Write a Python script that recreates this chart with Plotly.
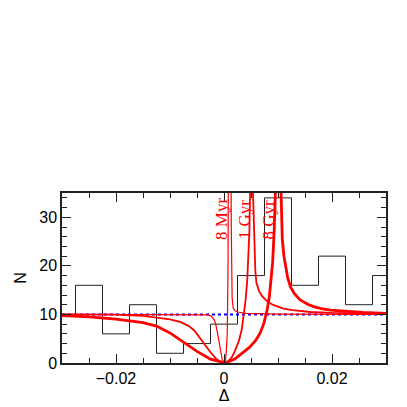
import plotly.graph_objects as go

# histogram of observed Delta values (bin centres, counts)
hist_x = [-0.03, -0.025, -0.02, -0.015, -0.01, -0.005, 0.0, 0.005, 0.01, 0.015, 0.02, 0.025, 0.03]
hist_n = [10, 16, 6, 12, 2, 4, 8, 18, 34, 16, 22, 12, 18]

# flat (uniform) expectation
flat_x = [-0.03, 0.03]
flat_n = [10, 10]

# model curves
myr8_x = [-0.03, -0.02, -0.01, -0.005, -0.003, -0.0024, -0.0018, -0.0015, -0.0012, -0.001,
          -0.0008, -0.0006, -0.0003, 0.0002, 0.0004, 0.0006, 0.0007, 0.00075, 0.0008,
          0.0013, 0.00135, 0.0014, 0.0015, 0.0017, 0.002, 0.0025, 0.004, 0.01, 0.03]
myr8_n = [10.0, 10.0, 10.0, 9.95, 9.9, 9.7, 8.9, 7.8, 6.4, 5.0,
          3.6, 2.3, 0.6, 0.0, 2.0, 6.0, 12.0, 20.0, 40.0,
          40.0, 28.0, 20.0, 13.5, 11.3, 10.8, 10.5, 10.2, 10.05, 10.0]

gyr1_x = [-0.03, -0.02, -0.015, -0.012, -0.01, -0.008, -0.0065, -0.0055, -0.0045, -0.0035,
          -0.0025, -0.0015, -0.0005, 0.0002, 0.001, 0.0015, 0.002, 0.0025, 0.0028, 0.0033,
          0.0037, 0.004, 0.0043, 0.0045, 0.0047, 0.0049,
          0.0052, 0.0054, 0.0056, 0.0058, 0.006, 0.0065, 0.0071, 0.008, 0.009, 0.011,
          0.0127, 0.016, 0.02, 0.025, 0.03]
gyr1_n = [10.0, 9.95, 9.7, 9.3, 9.0, 8.4, 7.6, 6.7, 5.3, 3.7,
          2.2, 0.9, 0.15, 0.0, 0.6, 1.3, 2.4, 3.7, 4.7, 7.0,
          10.2, 13.0, 17.0, 21.0, 27.0, 40.0,
          40.0, 34.0, 26.0, 19.0, 16.5, 14.8, 13.7, 12.7, 12.0, 11.2,
          10.9, 10.5, 10.3, 10.2, 10.1]

gyr8_x = [-0.03, -0.025, -0.02, -0.015, -0.0125, -0.01, -0.0075, -0.005, -0.0025, 0.0002,
          0.002, 0.0034, 0.0047, 0.0059, 0.0067, 0.0074, 0.008, 0.0084, 0.0088, 0.009,
          0.0093, 0.0096,
          0.0104, 0.0106, 0.0108, 0.0111, 0.0114, 0.0118, 0.0123, 0.013, 0.0141, 0.0155,
          0.0166, 0.018, 0.0197, 0.0225, 0.0258, 0.03]
gyr8_n = [9.75, 9.5, 9.05, 8.3, 7.6, 6.2, 4.3, 2.4, 0.8, 0.0,
          0.8, 2.0, 3.2, 4.7, 6.2, 8.2, 11.0, 13.7, 17.5, 20.6,
          27.4, 38.0,
          42.0, 33.0, 25.4, 22.0, 19.9, 17.5, 15.7, 14.3, 13.0, 12.1,
          11.6, 11.2, 10.9, 10.6, 10.4, 10.2]

labels = ['8 Myr', '1 Gyr', '8 Gyr']
label_x = [-0.0006, 0.0037, 0.0082]
label_y = [29.6, 29.6, 29.6]

fig = go.Figure()
fig.add_trace(go.Scatter(x=hist_x, y=hist_n, mode='lines', line_shape='hvh',
                         line=dict(color='#222222', width=1)))
fig.add_trace(go.Scatter(x=flat_x, y=flat_n, mode='lines',
                         line=dict(color='blue', width=2, dash='dot')))
fig.add_trace(go.Scatter(x=myr8_x, y=myr8_n, mode='lines',
                         line=dict(color='red', width=1.2)))
fig.add_trace(go.Scatter(x=gyr1_x, y=gyr1_n, mode='lines',
                         line=dict(color='red', width=1.8)))
fig.add_trace(go.Scatter(x=gyr8_x, y=gyr8_n, mode='lines',
                         line=dict(color='red', width=2.8)))

for txt, lx, ly in zip(labels, label_x, label_y):
    fig.add_annotation(x=lx, y=ly, text=txt, showarrow=False, textangle=-90,
                       xanchor='center', yanchor='middle',
                       font=dict(family='Liberation Serif', size=17, color='red'))

axis_style = dict(showline=True, linecolor='#222222', linewidth=1.5, mirror='ticks',
                  ticks='inside', ticklen=9, tickcolor='#222222', tickwidth=1.2,
                  showgrid=False, zeroline=False, automargin=False,
                  tickfont=dict(family='Liberation Sans', size=16, color='black'))

fig.update_xaxes(range=[-0.03, 0.03], tickvals=[-0.02, 0, 0.02],
                 ticktext=['\u22120.02', '0', '0.02'],
                 minor=dict(tickmode='linear', tick0=0, dtick=0.005, ticklen=5,
                            ticks='inside', tickcolor='#222222', tickwidth=1.2),
                 title=dict(text='\u0394', standoff=3,
                            font=dict(family='Liberation Sans', size=16, color='black')),
                 **axis_style)
fig.update_yaxes(range=[0, 35], tick0=0, dtick=10,
                 minor=dict(tick0=0, dtick=2, ticklen=5, ticks='inside',
                            tickcolor='#222222', tickwidth=1.2),
                 title=dict(text='N', standoff=9,
                            font=dict(family='Liberation Sans', size=16, color='black')),
                 **axis_style)

# page body has an 8px margin, so the figure is 8px smaller than the window
fig.update_layout(width=399, height=399, showlegend=False,
                  margin=dict(l=54, r=21, t=185, b=44),
                  paper_bgcolor='white', plot_bgcolor='white')

fig.write_html("out.html")
